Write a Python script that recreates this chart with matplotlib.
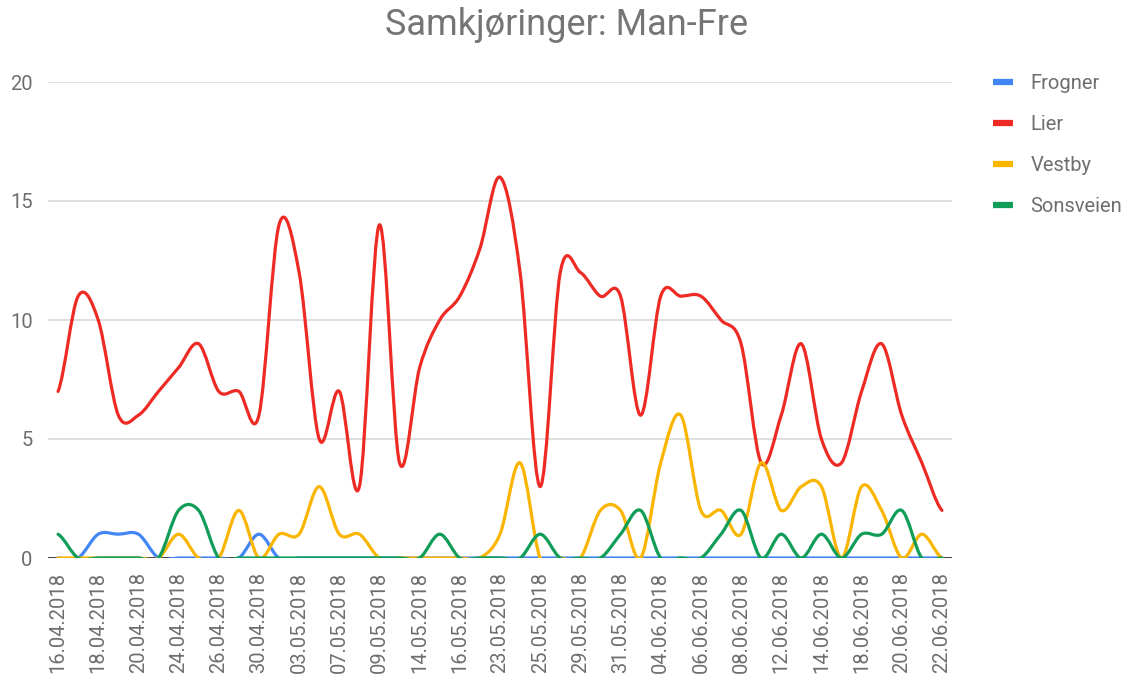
import matplotlib
matplotlib.use('Agg')
import matplotlib.pyplot as plt
from matplotlib.path import Path
from matplotlib.patches import PathPatch
from matplotlib.lines import Line2D
import numpy as np

plt.rcParams['font.family'] = ['Roboto', 'DejaVu Sans']

dates = ['16.04.2018', '17.04.2018', '18.04.2018', '19.04.2018', '20.04.2018',
         '23.04.2018', '24.04.2018', '25.04.2018', '26.04.2018', '27.04.2018',
         '30.04.2018', '02.05.2018', '03.05.2018', '04.05.2018', '07.05.2018',
         '08.05.2018', '09.05.2018', '11.05.2018', '14.05.2018', '15.05.2018',
         '16.05.2018', '22.05.2018', '23.05.2018', '24.05.2018', '25.05.2018',
         '28.05.2018', '29.05.2018', '30.05.2018', '31.05.2018', '01.06.2018',
         '04.06.2018', '05.06.2018', '06.06.2018', '07.06.2018', '08.06.2018',
         '11.06.2018', '12.06.2018', '13.06.2018', '14.06.2018', '15.06.2018',
         '18.06.2018', '19.06.2018', '20.06.2018', '21.06.2018', '22.06.2018']

frogner = [0, 0, 1, 1, 1, 0, 0, 0, 0, 0,
           1, 0, 0, 0, 0, 0, 0, 0, 0, 0,
           0, 0, 0, 0, 0, 0, 0, 0, 0, 0,
           0, 0, 0, 0, 0, 0, 0, 0, 0, 0,
           0, 0, 0, 0, 0]
lier = [7, 11, 10, 6, 6, 7, 8, 9, 7, 7,
        6, 14, 12, 5, 7, 3, 14, 4, 8, 10,
        11, 13, 16, 12, 3, 12, 12, 11, 11, 6,
        11, 11, 11, 10, 9, 4, 6, 9, 5, 4,
        7, 9, 6, 4, 2]
vestby = [0, 0, 0, 0, 0, 0, 1, 0, 0, 2,
          0, 1, 1, 3, 1, 1, 0, 0, 0, 0,
          0, 0, 1, 4, 0, 0, 0, 2, 2, 0,
          4, 6, 2, 2, 1, 4, 2, 3, 3, 0,
          3, 2, 0, 1, 0]
sonsveien = [1, 0, 0, 0, 0, 0, 2, 2, 0, 0,
             0, 0, 0, 0, 0, 0, 0, 0, 0, 1,
             0, 0, 0, 0, 1, 0, 0, 0, 1, 2,
             0, 0, 0, 1, 2, 0, 1, 0, 1, 0,
             1, 1, 2, 0, 0]

series_names = ['Frogner', 'Lier', 'Vestby', 'Sonsveien']
series_values = [frogner, lier, vestby, sonsveien]
colors = ['#4285F4', '#EE2A24', '#F9B500', '#0F9D58']

title = 'Samkjøringer: Man-Fre'
yticks = [0, 5, 10, 15, 20]


def smooth_path(yvals):
    y = np.asarray(yvals, dtype=float)
    x = np.arange(len(y), dtype=float)
    n = len(y)
    m = np.empty(n)
    m[1:-1] = (y[2:] - y[:-2]) / 2.0
    m[0] = (y[1] - y[0]) / 2.0
    m[-1] = (y[-1] - y[-2]) / 2.0
    verts = [(x[0], y[0])]
    codes = [Path.MOVETO]
    for i in range(n - 1):
        verts.append((x[i] + 1 / 3, y[i] + m[i] / 3))
        verts.append((x[i + 1] - 1 / 3, y[i + 1] - m[i + 1] / 3))
        verts.append((x[i + 1], y[i + 1]))
        codes += [Path.CURVE4] * 3
    return Path(verts, codes)


fig = plt.figure(figsize=(11.41, 6.84), dpi=100)
ax = fig.add_axes([48 / 1141, 126 / 684, (952 - 48) / 1141, (558 - 82) / 684])

ax.set_xlim(-0.5, len(dates) - 0.5)
ax.set_ylim(0, 20)

for yv in yticks[1:]:
    ax.axhline(yv, color='#d6d6d6', lw=1.1, zorder=1)
ax.axhline(0, color='#333333', lw=1.3, zorder=1.5)

for vals, c in zip(series_values, colors):
    patch = PathPatch(smooth_path(vals), facecolor='none', edgecolor=c,
                      lw=2.3, zorder=3, capstyle='round', joinstyle='round')
    ax.add_patch(patch)

for s in ax.spines.values():
    s.set_visible(False)

ax.set_yticks(yticks)
ax.set_yticklabels([str(v) for v in yticks], fontsize=14.5, color='#6e6e6e')
ax.set_xticks(range(0, len(dates), 2))
ax.set_xticklabels(dates[::2], rotation=90, fontsize=14.5, color='#6e6e6e')
ax.tick_params(axis='both', length=0)
ax.tick_params(axis='y', pad=11)
ax.tick_params(axis='x', pad=10)

fig.text(567 / 1141, 1 - 25 / 684, title, ha='center', va='center',
         fontsize=26, color='#757575')

handles = [Line2D([0], [0], color=c, lw=4.5, solid_capstyle='butt') for c in colors]
fig.legend(handles, series_names, loc='upper left',
           bbox_to_anchor=(993 / 1141, 1 - 74 / 684), frameon=False,
           fontsize=14.5, labelcolor='#6e6e6e', handlelength=1.0,
           handletextpad=0.85, labelspacing=1.1, borderpad=0, borderaxespad=0)

fig.savefig('out.png', dpi=100)
